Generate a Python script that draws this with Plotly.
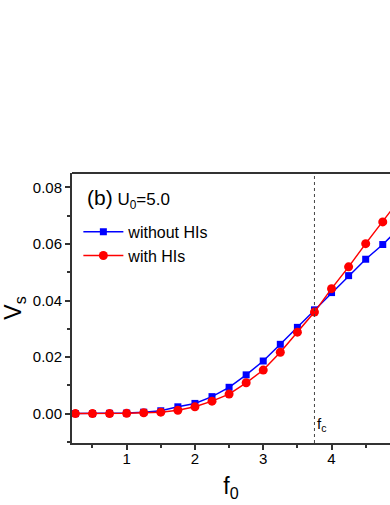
import plotly.graph_objects as go

f0 = [0.25, 0.5, 0.75, 1.0, 1.25, 1.5, 1.75, 2.0, 2.25, 2.5, 2.75, 3.0, 3.25, 3.5, 3.75, 4.0, 4.25, 4.5, 4.75, 5.0]
vs_without = [0.0, 0.0, 0.0001, 0.0002, 0.0005, 0.0010, 0.0024, 0.0036, 0.0060, 0.0093, 0.0137, 0.0186, 0.0245, 0.0305, 0.0367, 0.0428, 0.0488, 0.0546, 0.0598, 0.0658]
vs_with = [0.0, 0.0, 0.0, 0.0001, 0.0003, 0.0005, 0.0012, 0.0024, 0.0044, 0.0069, 0.0109, 0.0154, 0.0217, 0.0288, 0.0359, 0.0442, 0.0519, 0.0601, 0.0678, 0.0759]
FC = 3.75
x_ticks = [1, 2, 3, 4]
y_ticks = [0.0, 0.02, 0.04, 0.06, 0.08]
y_labels = ["0.00", "0.02", "0.04", "0.06", "0.08"]

FONT = "Liberation Sans, Arial, sans-serif"

fig = go.Figure()
fig.add_trace(go.Scatter(x=f0, y=vs_without, mode="lines+markers", name="without HIs",
                         line=dict(color="#0000ff", width=1.5),
                         marker=dict(symbol="square", size=7, color="#0000ff")))
fig.add_trace(go.Scatter(x=f0, y=vs_with, mode="lines+markers", name="with HIs",
                         line=dict(color="#ff0000", width=1.5),
                         marker=dict(symbol="circle", size=9, color="#ff0000")))

fig.add_vline(x=FC, line=dict(color="#444444", width=1, dash="dot"))
fig.add_shape(type="line", xref="paper", yref="paper", x0=0, x1=1, y0=1, y1=1,
              line=dict(color="#333333", width=2))

fig.add_annotation(x=FC, y=0, xref="x", yref="paper", xanchor="left", yanchor="bottom",
                   xshift=1, yshift=7, showarrow=False,
                   text="f<sub>c</sub>", font=dict(family=FONT, size=15, color="black"))
fig.add_annotation(x=0.04, y=0.905, xref="paper", yref="paper", xanchor="left", yanchor="middle",
                   showarrow=False,
                   text="<span style='font-size:21px'>(b)</span> U<sub>0</sub>=5.0",
                   font=dict(family=FONT, size=17, color="black"))

fig.update_layout(
    width=390, height=505,
    margin=dict(l=72, r=0, t=173, b=62),
    paper_bgcolor="white", plot_bgcolor="white",
    font=dict(family=FONT, color="black"),
    showlegend=True,
    legend=dict(x=0.02, y=0.845, xanchor="left", yanchor="top",
                bgcolor="rgba(0,0,0,0)", font=dict(family=FONT, size=16, color="black"),
                itemwidth=40, tracegroupgap=0),
    xaxis=dict(range=[0.2, 4.856], tickvals=x_ticks, ticks="outside", ticklen=5, tickwidth=1.5,
               tickcolor="#333333", showline=True, linecolor="#333333", linewidth=2,
               showgrid=False, zeroline=False, tickfont=dict(family=FONT, size=15),
               ticklabelstandoff=-4,
               minor=dict(dtick=0.5, ticks="outside", ticklen=3, tickwidth=1.5, tickcolor="#333333"),
               title=dict(text="f<sub>0</sub>", font=dict(family=FONT, size=23), standoff=12)),
    yaxis=dict(range=[-0.0104, 0.0851], tickvals=y_ticks, ticktext=y_labels, ticks="outside",
               ticklen=5, tickwidth=1.5, tickcolor="#333333", showline=True, linecolor="#333333",
               linewidth=2, showgrid=False, zeroline=False, tickfont=dict(family=FONT, size=15),
               minor=dict(dtick=0.01, ticks="outside", ticklen=3, tickwidth=1.5, tickcolor="#333333"),
               title=dict(text="V<sub>s</sub>", font=dict(family=FONT, size=23), standoff=6)),
)

fig.write_html("out.html", config={"displayModeBar": False},
               post_script="document.body.style.margin='0';document.body.style.overflow='hidden';")
